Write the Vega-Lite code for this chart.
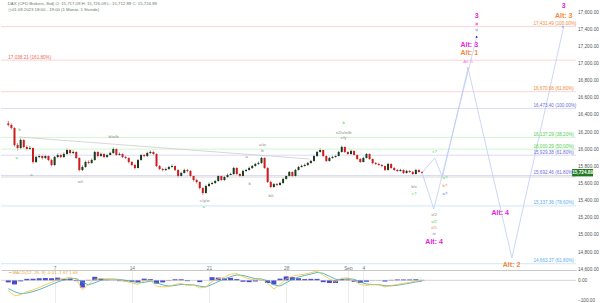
{
  "$schema": "https://vega.github.io/schema/vega-lite/v6.json",
  "padding": 0,
  "spacing": 0,
  "bounds": "flush",
  "background": "white",
  "config": {
    "view": {"stroke": null},
    "font": "Liberation Sans",
    "axis": {"labelFont": "Liberation Sans", "labelFontSize": 4.8, "labelColor": "#555"},
    "axisY": {"labelOverlap": false, "grid": false, "ticks": false, "domain": false, "labelPadding": 1.5, "labelFontSize": 4.7, "format": ",.2f"},
    "text": {"font": "Liberation Sans"}
  },
  "datasets": {
    "candles": [
      {"i":0,"o":16300,"h":16330,"l":16265,"c":16282},{"i":1,"o":16282,"h":16300,"l":16230,"c":16247},{"i":2,"o":16247,"h":16255,"l":16030,"c":16048},{"i":3,"o":16048,"h":16070,"l":15985,"c":16013},{"i":4,"o":16013,"h":16125,"l":16000,"c":16107},{"i":5,"o":16107,"h":16115,"l":16010,"c":16025},{"i":6,"o":16025,"h":16045,"l":15985,"c":16002},{"i":7,"o":16002,"h":16035,"l":15990,"c":16013},{"i":8,"o":16013,"h":16020,"l":15830,"c":15850},{"i":9,"o":15850,"h":15925,"l":15840,"c":15908},
      {"i":10,"o":15908,"h":15940,"l":15895,"c":15920},{"i":11,"o":15920,"h":15935,"l":15880,"c":15897},{"i":12,"o":15897,"h":15935,"l":15885,"c":15920},{"i":13,"o":15920,"h":15930,"l":15860,"c":15873},{"i":14,"o":15873,"h":15885,"l":15800,"c":15815},{"i":15,"o":15815,"h":15920,"l":15805,"c":15908},{"i":16,"o":15908,"h":15950,"l":15895,"c":15932},{"i":17,"o":15932,"h":15945,"l":15895,"c":15908},{"i":18,"o":15908,"h":15960,"l":15900,"c":15943},{"i":19,"o":15943,"h":16005,"l":15935,"c":15990},
      {"i":20,"o":15990,"h":16000,"l":15940,"c":15955},{"i":21,"o":15955,"h":15985,"l":15945,"c":15967},{"i":22,"o":15967,"h":15975,"l":15885,"c":15897},{"i":23,"o":15897,"h":15905,"l":15740,"c":15757},{"i":24,"o":15757,"h":15810,"l":15745,"c":15792},{"i":25,"o":15792,"h":15865,"l":15785,"c":15850},{"i":26,"o":15850,"h":15870,"l":15825,"c":15838},{"i":27,"o":15838,"h":15890,"l":15830,"c":15873},{"i":28,"o":15873,"h":15980,"l":15865,"c":15967},{"i":29,"o":15967,"h":15975,"l":15905,"c":15920},
      {"i":30,"o":15920,"h":15960,"l":15910,"c":15943},{"i":31,"o":15943,"h":15955,"l":15895,"c":15908},{"i":32,"o":15908,"h":15945,"l":15900,"c":15932},{"i":33,"o":15932,"h":15970,"l":15925,"c":15955},{"i":34,"o":15955,"h":16020,"l":15945,"c":16002},{"i":35,"o":16002,"h":16010,"l":15920,"c":15932},{"i":36,"o":15932,"h":15960,"l":15925,"c":15943},{"i":37,"o":15943,"h":15950,"l":15895,"c":15908},{"i":38,"o":15908,"h":15925,"l":15885,"c":15897},{"i":39,"o":15897,"h":15905,"l":15835,"c":15850},
      {"i":40,"o":15850,"h":15860,"l":15800,"c":15815},{"i":41,"o":15815,"h":15830,"l":15765,"c":15780},{"i":42,"o":15780,"h":15885,"l":15775,"c":15873},{"i":43,"o":15873,"h":15945,"l":15865,"c":15932},{"i":44,"o":15932,"h":15945,"l":15905,"c":15920},{"i":45,"o":15920,"h":15970,"l":15910,"c":15955},{"i":46,"o":15955,"h":15985,"l":15945,"c":15967},{"i":47,"o":15967,"h":15975,"l":15930,"c":15943},{"i":48,"o":15943,"h":15950,"l":15790,"c":15803},{"i":49,"o":15803,"h":15815,"l":15755,"c":15768},
      {"i":50,"o":15768,"h":15780,"l":15740,"c":15757},{"i":51,"o":15757,"h":15785,"l":15745,"c":15768},{"i":52,"o":15768,"h":15805,"l":15760,"c":15792},{"i":53,"o":15792,"h":15820,"l":15785,"c":15803},{"i":54,"o":15803,"h":15810,"l":15745,"c":15757},{"i":55,"o":15757,"h":15765,"l":15670,"c":15687},{"i":56,"o":15687,"h":15735,"l":15680,"c":15722},{"i":57,"o":15722,"h":15770,"l":15715,"c":15757},{"i":58,"o":15757,"h":15770,"l":15730,"c":15745},{"i":59,"o":15745,"h":15755,"l":15675,"c":15687},
      {"i":60,"o":15687,"h":15695,"l":15625,"c":15640},{"i":61,"o":15640,"h":15655,"l":15600,"c":15617},{"i":62,"o":15617,"h":15625,"l":15530,"c":15546},{"i":63,"o":15546,"h":15555,"l":15468,"c":15488},{"i":64,"o":15488,"h":15585,"l":15480,"c":15570},{"i":65,"o":15570,"h":15610,"l":15560,"c":15593},{"i":66,"o":15593,"h":15620,"l":15585,"c":15605},{"i":67,"o":15605,"h":15640,"l":15595,"c":15628},{"i":68,"o":15628,"h":15700,"l":15620,"c":15687},{"i":69,"o":15687,"h":15695,"l":15630,"c":15640},
      {"i":70,"o":15640,"h":15690,"l":15630,"c":15675},{"i":71,"o":15675,"h":15715,"l":15665,"c":15698},{"i":72,"o":15698,"h":15725,"l":15690,"c":15710},{"i":73,"o":15710,"h":15795,"l":15700,"c":15780},{"i":74,"o":15780,"h":15790,"l":15700,"c":15710},{"i":75,"o":15710,"h":15720,"l":15675,"c":15687},{"i":76,"o":15687,"h":15760,"l":15680,"c":15745},{"i":77,"o":15745,"h":15770,"l":15735,"c":15757},{"i":78,"o":15757,"h":15795,"l":15750,"c":15780},{"i":79,"o":15780,"h":15815,"l":15770,"c":15803},
      {"i":80,"o":15803,"h":15840,"l":15795,"c":15827},{"i":81,"o":15827,"h":15855,"l":15815,"c":15838},{"i":82,"o":15838,"h":15910,"l":15830,"c":15897},{"i":83,"o":15897,"h":15905,"l":15770,"c":15780},{"i":84,"o":15780,"h":15790,"l":15605,"c":15617},{"i":85,"o":15617,"h":15630,"l":15545,"c":15558},{"i":86,"o":15558,"h":15605,"l":15550,"c":15593},{"i":87,"o":15593,"h":15605,"l":15570,"c":15582},{"i":88,"o":15582,"h":15620,"l":15575,"c":15605},{"i":89,"o":15605,"h":15665,"l":15595,"c":15652},
      {"i":90,"o":15652,"h":15700,"l":15645,"c":15687},{"i":91,"o":15687,"h":15745,"l":15680,"c":15733},{"i":92,"o":15733,"h":15740,"l":15675,"c":15687},{"i":93,"o":15687,"h":15770,"l":15680,"c":15757},{"i":94,"o":15757,"h":15805,"l":15750,"c":15792},{"i":95,"o":15792,"h":15820,"l":15785,"c":15803},{"i":96,"o":15803,"h":15830,"l":15795,"c":15815},{"i":97,"o":15815,"h":15850,"l":15805,"c":15838},{"i":98,"o":15838,"h":15875,"l":15830,"c":15862},{"i":99,"o":15862,"h":15935,"l":15855,"c":15920},
      {"i":100,"o":15920,"h":15980,"l":15910,"c":15967},{"i":101,"o":15967,"h":16010,"l":15960,"c":15990},{"i":102,"o":15990,"h":15995,"l":15910,"c":15920},{"i":103,"o":15920,"h":15930,"l":15850,"c":15862},{"i":104,"o":15862,"h":15910,"l":15855,"c":15897},{"i":105,"o":15897,"h":15925,"l":15890,"c":15908},{"i":106,"o":15908,"h":15935,"l":15900,"c":15920},{"i":107,"o":15920,"h":15980,"l":15915,"c":15967},{"i":108,"o":15967,"h":16040,"l":15960,"c":16025},{"i":109,"o":16025,"h":16030,"l":15955,"c":15967},
      {"i":110,"o":15967,"h":15975,"l":15930,"c":15943},{"i":111,"o":15943,"h":15995,"l":15935,"c":15978},{"i":112,"o":15978,"h":15985,"l":15920,"c":15932},{"i":113,"o":15932,"h":15940,"l":15875,"c":15885},{"i":114,"o":15885,"h":15895,"l":15840,"c":15850},{"i":115,"o":15850,"h":15910,"l":15845,"c":15897},{"i":116,"o":15897,"h":15955,"l":15890,"c":15943},{"i":117,"o":15943,"h":15950,"l":15875,"c":15885},{"i":118,"o":15885,"h":15890,"l":15825,"c":15838},{"i":119,"o":15838,"h":15850,"l":15815,"c":15827},
      {"i":120,"o":15827,"h":15840,"l":15805,"c":15815},{"i":121,"o":15815,"h":15825,"l":15790,"c":15803},{"i":122,"o":15803,"h":15810,"l":15745,"c":15757},{"i":123,"o":15757,"h":15840,"l":15750,"c":15827},{"i":124,"o":15827,"h":15835,"l":15770,"c":15780},{"i":125,"o":15780,"h":15790,"l":15745,"c":15757},{"i":126,"o":15757,"h":15770,"l":15735,"c":15745},{"i":127,"o":15745,"h":15770,"l":15738,"c":15757},{"i":128,"o":15757,"h":15765,"l":15710,"c":15722},{"i":129,"o":15722,"h":15760,"l":15715,"c":15745},
      {"i":130,"o":15745,"h":15755,"l":15722,"c":15733},{"i":131,"o":15733,"h":15745,"l":15700,"c":15710},{"i":132,"o":15710,"h":15770,"l":15705,"c":15757},{"i":133,"o":15757,"h":15765,"l":15725,"c":15733},{"i":134,"o":15733,"h":15745,"l":15712,"c":15725}
    ],
    "fib": [
      {"p":17431.49,"lab":"17,431.49 (100.00%)","g":"Lred","tg":"orange","side":"right"},
      {"p":17038.21,"lab":"17,038.21 (161.80%)","g":"Lred","tg":"red","side":"left"},
      {"p":16670.68,"lab":"16,670.68 (61.80%)","g":"Lred","tg":"orange","side":"right"},
      {"p":16473.40,"lab":"16,473.40 (100.00%)","g":"Lblue","tg":"blue","side":"right"},
      {"p":16137.29,"lab":"16,137.29 (38.20%)","g":"Lgreen","tg":"green","side":"right"},
      {"p":16000.29,"lab":"16,000.29 (50.00%)","g":"Lgreen","tg":"green","side":"right"},
      {"p":15929.38,"lab":"15,929.38 (61.80%)","g":"Lblue","tg":"blue","side":"right"},
      {"p":15692.46,"lab":"15,692.46 (61.80%)","g":"Lblue","tg":"blue","side":"right"},
      {"p":15675,"lab":"","g":"Lgray","tg":"gray","side":"none"},
      {"p":15337.36,"lab":"15,337.36 (78.60%)","g":"Llight","tg":"lightblue","side":"right"},
      {"p":14663.37,"lab":"14,663.37 (61.80%)","g":"Llight","tg":"lightblue","side":"right"}
    ],
    "fiblabels": [
      {"i":170.1,"p":17431.49,"lab":"17,431.49 (100.00%)","tg":"orange"},
      {"i":0,"p":17038.21,"lab":"17,038.21 (161.80%)","tg":"red"},
      {"i":170.1,"p":16670.68,"lab":"16,670.68 (61.80%)","tg":"orange"},
      {"i":170.1,"p":16473.40,"lab":"16,473.40 (100.00%)","tg":"blue"},
      {"i":170.1,"p":16137.29,"lab":"16,137.29 (38.20%)","tg":"green"},
      {"i":170.1,"p":16000.29,"lab":"16,000.29 (50.00%)","tg":"green"},
      {"i":170.1,"p":15929.38,"lab":"15,929.38 (61.80%)","tg":"blue"},
      {"i":170.1,"p":15692.46,"lab":"15,692.46 (61.80%)","tg":"blue"},
      {"i":170.1,"p":15337.36,"lab":"15,337.36 (78.60%)","tg":"lightblue"},
      {"i":170.1,"p":14663.37,"lab":"14,663.37 (61.80%)","tg":"lightblue"}
    ],
    "trend": [
      {"i":3.4,"p":16142},{"i":97.5,"p":15885}
    ],
    "paths": [
      {"path":"A","k":0,"i":134,"p":15725},{"path":"A","k":1,"i":138.1,"p":15897},{"path":"A","k":2,"i":140.6,"p":15675},{"path":"A","k":3,"i":148.9,"p":16947},{"path":"A","k":4,"i":163.1,"p":14730},{"path":"A","k":5,"i":179.9,"p":17431},
      {"path":"B","k":0,"i":134,"p":15725},{"path":"B","k":1,"i":137.8,"p":15302},{"path":"B","k":2,"i":151.7,"p":17308}
    ],
    "waves": [
      {"i":34.1,"p":16142,"t":"b/w/b","g":"gray"},
      {"i":7.5,"p":15698,"t":"a","g":"gray"},
      {"i":23.3,"p":15617,"t":"w/i","g":"gray"},
      {"i":63.6,"p":15395,"t":"c/y/w","g":"gray"},
      {"i":82.3,"p":16048,"t":"a/w","g":"gray"},
      {"i":82.3,"p":15978,"t":"b","g":"gray"},
      {"i":77.2,"p":15908,"t":"a","g":"gray"},
      {"i":78.2,"p":15593,"t":"b","g":"gray"},
      {"i":85.2,"p":15453,"t":"b/c","g":"gray"},
      {"i":108.6,"p":16188,"t":"x2/v/w/b","g":"gray"},
      {"i":108.6,"p":16130,"t":"c/y","g":"gray"},
      {"i":108.6,"p":16305,"t":"b","g":"green"},
      {"i":63.3,"p":15325,"t":"a","g":"green"},
      {"i":3.7,"p":16223,"t":"b","g":"green"},
      {"i":2.7,"p":15897,"t":"a","g":"green"},
      {"i":131.4,"p":15558,"t":"b/v","g":"gray"},
      {"i":131.4,"p":15477,"t":"c?","g":"green"},
      {"i":138.1,"p":15967,"t":"c?","g":"green"},
      {"i":141.4,"p":15663,"t":"a?","g":"green"},
      {"i":141.4,"p":15570,"t":"b?","g":"orange"},
      {"i":141.4,"p":15477,"t":"a?","g":"blue"},
      {"i":137.9,"p":15232,"t":"v/2","g":"gray"},
      {"i":137.9,"p":15150,"t":"v/2","g":"green"},
      {"i":137.9,"p":15080,"t":"ii/5","g":"orange"},
      {"i":137.9,"p":15010,"t":"iv","g":"blue"},
      {"i":148.9,"p":17020,"t":"Alt: 5","g":"pink"},
      {"i":148.8,"p":16943,"t":"c","g":"pink"}
    ],
    "alts": [
      {"i":137.9,"p":14917,"t":"Alt: 4","g":"magenta"},
      {"i":159.3,"p":15255,"t":"Alt: 4","g":"magenta"},
      {"i":163.0,"p":14654,"t":"Alt: 2","g":"orange"},
      {"i":149.3,"p":17118,"t":"Alt: 1","g":"orange"},
      {"i":149.3,"p":17215,"t":"Alt: 3","g":"magenta"},
      {"i":179.9,"p":17553,"t":"Alt: 3","g":"orange"},
      {"i":151.7,"p":17553,"t":"3","g":"magenta"},
      {"i":179.9,"p":17670,"t":"3","g":"magenta"}
    ],
    "marks": [
      {"i":151.7,"p":17312,"shape":"triangle-up","g":"navy"},
      {"i":151.7,"p":17390,"shape":"square","g":"Lproj"},
      {"i":151.7,"p":17460,"shape":"square","g":"pink"},
      {"i":179.6,"p":17431,"shape":"triangle-up","g":"lightblue"}
    ],
    "macd": [
      {"i":0,"m":-50,"s":-40,"h":-10},{"i":2,"m":-75,"s":-55,"h":-20},{"i":4,"m":-70,"s":-65,"h":-5},{"i":6,"m":-55,"s":-62,"h":7},{"i":8,"m":-47,"s":-55,"h":8},{"i":10,"m":-35,"s":-45,"h":10},{"i":12,"m":-22,"s":-33,"h":11},{"i":14,"m":-10,"s":-20,"h":10},{"i":16,"m":5,"s":-8,"h":13},{"i":18,"m":8,"s":2,"h":6},
      {"i":20,"m":15,"s":8,"h":7},{"i":22,"m":5,"s":9,"h":-4},{"i":24,"m":-45,"s":-10,"h":-35},{"i":26,"m":-20,"s":-22,"h":2},{"i":28,"m":5,"s":-12,"h":17},{"i":30,"m":8,"s":0,"h":8},{"i":32,"m":7,"s":5,"h":2},{"i":34,"m":5,"s":6,"h":-1},{"i":36,"m":0,"s":4,"h":-4},{"i":38,"m":-5,"s":0,"h":-5},
      {"i":40,"m":-12,"s":-5,"h":-7},{"i":42,"m":-20,"s":-12,"h":-8},{"i":44,"m":-2,"s":-10,"h":8},{"i":46,"m":2,"s":-4,"h":6},{"i":48,"m":-28,"s":-12,"h":-16},{"i":50,"m":-32,"s":-22,"h":-10},{"i":52,"m":-30,"s":-28,"h":-2},{"i":54,"m":-20,"s":-25,"h":5},{"i":56,"m":-15,"s":-20,"h":5},{"i":58,"m":-25,"s":-21,"h":-4},
      {"i":60,"m":-22,"s":-22,"h":0},{"i":62,"m":-37,"s":-28,"h":-9},{"i":64,"m":-32,"s":-32,"h":0},{"i":66,"m":-5,"s":-20,"h":15},{"i":68,"m":7,"s":-6,"h":13},{"i":70,"m":15,"s":6,"h":9},{"i":72,"m":30,"s":18,"h":12},{"i":74,"m":32,"s":26,"h":6},{"i":76,"m":17,"s":24,"h":-7},{"i":78,"m":7,"s":16,"h":-9},
      {"i":80,"m":2,"s":8,"h":-6},{"i":82,"m":7,"s":6,"h":1},{"i":84,"m":-15,"s":-2,"h":-13},{"i":86,"m":-42,"s":-22,"h":-20},{"i":88,"m":-20,"s":-28,"h":8},{"i":90,"m":7,"s":-12,"h":19},{"i":92,"m":20,"s":5,"h":15},{"i":94,"m":26,"s":16,"h":10},{"i":96,"m":30,"s":24,"h":6},{"i":98,"m":37,"s":30,"h":7},
      {"i":100,"m":45,"s":38,"h":7},{"i":102,"m":25,"s":34,"h":-9},{"i":104,"m":7,"s":20,"h":-13},{"i":106,"m":-8,"s":5,"h":-13},{"i":108,"m":10,"s":3,"h":7},{"i":110,"m":12,"s":8,"h":4},{"i":112,"m":-2,"s":5,"h":-7},{"i":114,"m":-20,"s":-8,"h":-12},{"i":116,"m":-25,"s":-18,"h":-7},{"i":118,"m":-20,"s":-21,"h":1},
      {"i":120,"m":-22,"s":-21,"h":-1},{"i":122,"m":-32,"s":-26,"h":-6},{"i":124,"m":-25,"s":-27,"h":2},{"i":126,"m":-20,"s":-24,"h":4},{"i":128,"m":-15,"s":-19,"h":4},{"i":130,"m":-10,"s":-14,"h":4},{"i":132,"m":-3,"s":-8,"h":5},{"i":134,"m":-2,"s":-4,"h":2}
    ]
  },
  "vconcat": [
    {
      "width": 575,
      "height": 270,
      "encoding": {
        "y": {"field": "p", "type": "quantitative", "title": null,
              "scale": {"domain": [14590, 17740], "nice": false, "zero": false},
              "axis": {"orient": "right", "values": [14600,14800,15000,15200,15400,15600,15800,16000,16200,16400,16600,16800,17000,17200,17400,17600]}},
        "x": {"field": "i", "type": "quantitative", "title": null,
              "scale": {"domain": [-0.75, 182.25], "nice": false, "zero": false},
              "axis": {"orient": "bottom", "offset": -6, "values": [15,40,65,90,110,115], "labelExpr": "datum.value == 15 ? '7' : datum.value == 40 ? '14' : datum.value == 65 ? '21' : datum.value == 90 ? '28' : datum.value == 110 ? 'Sep' : '4'", "grid": false, "ticks": false, "domain": false, "labelPadding": 1, "labelColor": "#777"}}
      },
      "layer": [
        {
          "data": {"name": "candles"},
          "mark": {"type": "rule", "strokeWidth": 0.6},
          "encoding": {
            "y": {"field": "l", "type": "quantitative", "title": null,
                  "scale": {"domain": [14590, 17740], "nice": false, "zero": false},
                  "axis": {"orient": "right", "values": [14600,14800,15000,15200,15400,15600,15800,16000,16200,16400,16600,16800,17000,17200,17400,17600]}},
            "y2": {"field": "h"},
            "color": {"condition": {"test": "datum.c >= datum.o", "value": "#1d3a1d"}, "value": "#cc1c1c"}
          }
        },
        {
          "data": {"name": "fib"},
          "mark": {"type": "rule", "strokeWidth": 0.8},
          "encoding": {
            "x": null,
            "color": {"field": "g", "type": "nominal", "legend": null,
                      "scale": {"domain": ["gray","green","orange","blue","lightblue","magenta","pink","red","navy","Lred","Lgreen","Lblue","Llight","Lgray","Lproj"],
                                "range": ["#8c8c8c","#4fcf4f","#f08a3a","#6e6ee0","#5aaeee","#e51fdc","#f27ad0","#ee6655","#2020c0","#fbcaca","#c6f2c6","#d2d2f5","#c4e1fa","#cfcfcf","#b6c9f2"]}}
          }
        },
        {
          "data": {"name": "trend"},
          "mark": {"type": "line", "stroke": "#cdcdcd", "strokeWidth": 0.8},
          "encoding": {}
        },
        {
          "data": {"name": "paths"},
          "mark": {"type": "line", "stroke": "#bccdf3", "strokeWidth": 0.8},
          "encoding": {
            "detail": {"field": "path"},
            "order": {"field": "k", "type": "quantitative"}
          }
        },
        {
          "data": {"name": "candles"},
          "mark": {"type": "bar", "size": 2},
          "encoding": {
            "y": {"field": "o", "type": "quantitative", "title": null,
                  "scale": {"domain": [14590, 17740], "nice": false, "zero": false},
                  "axis": {"orient": "right", "values": [14600,14800,15000,15200,15400,15600,15800,16000,16200,16400,16600,16800,17000,17200,17400,17600]}},
            "y2": {"field": "c"},
            "color": {"condition": {"test": "datum.c >= datum.o", "value": "#1d3a1d"}, "value": "#cc1c1c"}
          }
        },
        {
          "data": {"name": "fiblabels"},
          "mark": {"type": "text", "fontSize": 4.6, "align": "left", "baseline": "bottom", "dy": -0.5},
          "encoding": {
            "text": {"field": "lab"},
            "color": {"field": "tg", "type": "nominal", "legend": null}
          }
        },
        {
          "data": {"name": "waves"},
          "mark": {"type": "text", "fontSize": 4.3, "align": "center", "baseline": "middle"},
          "encoding": {
            "text": {"field": "t"},
            "color": {"field": "g", "type": "nominal", "legend": null}
          }
        },
        {
          "data": {"name": "alts"},
          "mark": {"type": "text", "fontSize": 7, "fontWeight": "bold", "align": "center", "baseline": "middle"},
          "encoding": {
            "text": {"field": "t"},
            "color": {"field": "g", "type": "nominal", "legend": null}
          }
        },
        {
          "data": {"name": "marks"},
          "mark": {"type": "point", "filled": true, "size": 6, "opacity": 1},
          "encoding": {
            "shape": {"field": "shape", "type": "nominal", "scale": null},
            "color": {"field": "g", "type": "nominal", "legend": null}
          }
        },
        {
          "data": {"values": [
            {"i": -0.2, "p": 17693, "t": "DAX (CFD Brokers, Std)  O: 15,717.09  H: 15,726.09  L: 15,712.89  C: 15,724.89"},
            {"i": -0.2, "p": 17623, "t": "◷ 01.09.2023 18:00 - 19:00  (1 Monat, 1 Stunde)"}
          ]},
          "mark": {"type": "text", "fontSize": 4.3, "align": "left", "baseline": "middle", "color": "#667a66"},
          "encoding": {
            "text": {"field": "t"}
          }
        },
        {
          "data": {"values": [{"i": 182.6, "i2": 189.4, "p": 15768, "p2": 15682}]},
          "mark": {"type": "rect", "color": "#1f7a1f"},
          "encoding": {
            "x2": {"field": "i2"},
            "y2": {"field": "p2"}
          }
        },
        {
          "data": {"values": [{"i": 186, "p": 15725, "t": "15,724.89"}]},
          "mark": {"type": "text", "fontSize": 4.7, "fontWeight": "bold", "align": "center", "baseline": "middle", "color": "white"},
          "encoding": {
            "text": {"field": "t"}
          }
        }
      ]
    },
    {
      "width": 575,
      "height": 33,
      "data": {"name": "macd"},
      "encoding": {
        "x": {"field": "i", "type": "quantitative", "title": null,
              "scale": {"domain": [-0.75, 182.25], "nice": false, "zero": false},
              "axis": {"orient": "top", "values": [15,40,65,90,110,115], "labels": false, "ticks": false, "domain": true, "domainColor": "#c8c8c8", "grid": true, "gridColor": "#ececec"}}
      },
      "layer": [
        {
          "mark": {"type": "bar", "size": 5, "color": "#4a4ad0"},
          "encoding": {
            "y": {"field": "h", "type": "quantitative", "title": null,
                  "scale": {"domain": [-110, 50], "nice": false},
                  "axis": {"orient": "right", "values": [0, -100]}}
          }
        },
        {
          "mark": {"type": "line", "color": "#2ea3bb", "strokeWidth": 0.8},
          "encoding": {
            "y": {"field": "s", "type": "quantitative", "title": null,
                  "scale": {"domain": [-110, 50], "nice": false},
                  "axis": {"orient": "right", "values": [0, -100]}}
          }
        },
        {
          "mark": {"type": "line", "color": "#f5c232", "strokeWidth": 0.8},
          "encoding": {
            "y": {"field": "m", "type": "quantitative", "title": null,
                  "scale": {"domain": [-110, 50], "nice": false},
                  "axis": {"orient": "right", "values": [0, -100]}}
          }
        },
        {
          "data": {"values": [{"i": 0.3, "v": 35, "t": "━ MACD(12, 26, 9)  -0.01  -1.67  1.66"}]},
          "mark": {"type": "text", "fontSize": 4.4, "align": "left", "baseline": "middle", "color": "#e8a63a"},
          "encoding": {
            "y": {"field": "v", "type": "quantitative", "title": null,
                  "scale": {"domain": [-110, 50], "nice": false},
                  "axis": {"orient": "right", "values": [0, -100]}},
            "text": {"field": "t"}
          }
        },
        {
          "data": {"values": [{"v": 0}]},
          "mark": {"type": "rule", "color": "#aaaaaa", "strokeWidth": 0.5},
          "encoding": {
            "x": null,
            "y": {"field": "v", "type": "quantitative", "title": null,
                  "scale": {"domain": [-110, 50], "nice": false},
                  "axis": {"orient": "right", "values": [0, -100]}}
          }
        }
      ]
    }
  ]
}
